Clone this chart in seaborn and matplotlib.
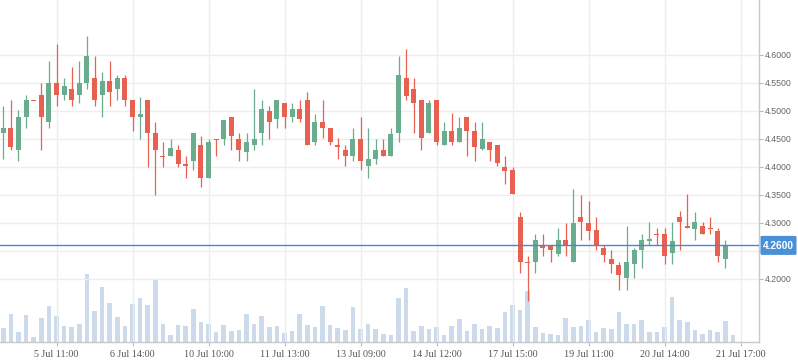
import numpy as np
import pandas as pd
import matplotlib
matplotlib.use("Agg")
import matplotlib.pyplot as plt
import seaborn as sns
from matplotlib.transforms import blended_transform_factory
from matplotlib.patches import FancyBboxPatch

# ---------------- data ----------------
opens = [4.460, 4.470, 4.431, 4.489, 4.520, 4.529, 4.480, 4.550, 4.529, 4.539,
         4.529, 4.550, 4.559, 4.529, 4.554, 4.539, 4.559, 4.520, 4.490, 4.520,
         4.460, 4.420, 4.420, 4.430, 4.405, 4.410, 4.439, 4.381, 4.450, 4.450,
         4.490, 4.450, 4.426, 4.439, 4.460, 4.500, 4.485, 4.514, 4.490, 4.504,
         4.520, 4.445, 4.480, 4.470, 4.439, 4.430, 4.420, 4.450, 4.401, 4.415,
         4.430, 4.420, 4.460, 4.559, 4.539, 4.520, 4.460, 4.520, 4.440, 4.464,
         4.445, 4.489, 4.465, 4.433, 4.445, 4.439, 4.400, 4.395, 4.311, 4.230,
         4.231, 4.259, 4.259, 4.245, 4.270, 4.231, 4.311, 4.300, 4.288, 4.255,
         4.236, 4.225, 4.201, 4.226, 4.251, 4.268, 4.281, 4.280, 4.246, 4.311,
         4.295, 4.290, 4.295, 4.291, 4.286, 4.236, 4.260]
highs = [4.509, 4.520, 4.502, 4.529, 4.520, 4.550, 4.589, 4.620, 4.559, 4.579,
         4.589, 4.634, 4.598, 4.570, 4.589, 4.564, 4.564, 4.520, 4.525, 4.520,
         4.480, 4.445, 4.450, 4.439, 4.420, 4.460, 4.455, 4.450, 4.450, 4.484,
         4.490, 4.460, 4.460, 4.539, 4.520, 4.509, 4.520, 4.514, 4.514, 4.520,
         4.534, 4.495, 4.520, 4.470, 4.451, 4.439, 4.470, 4.489, 4.470, 4.450,
         4.450, 4.470, 4.598, 4.611, 4.559, 4.520, 4.520, 4.520, 4.480, 4.496,
         4.489, 4.489, 4.480, 4.480, 4.445, 4.439, 4.420, 4.400, 4.320, 4.241,
         4.280, 4.280, 4.259, 4.291, 4.300, 4.361, 4.350, 4.339, 4.311, 4.261,
         4.251, 4.230, 4.295, 4.255, 4.280, 4.301, 4.291, 4.291, 4.301, 4.321,
         4.351, 4.320, 4.301, 4.311, 4.291, 4.270, 4.260]
lows = [4.415, 4.431, 4.410, 4.470, 4.519, 4.431, 4.470, 4.509, 4.520, 4.509,
        4.514, 4.539, 4.509, 4.489, 4.509, 4.520, 4.509, 4.464, 4.450, 4.400,
        4.350, 4.400, 4.420, 4.400, 4.380, 4.395, 4.365, 4.381, 4.420, 4.439,
        4.430, 4.410, 4.410, 4.430, 4.439, 4.450, 4.470, 4.470, 4.481, 4.481,
        4.440, 4.440, 4.451, 4.440, 4.415, 4.401, 4.410, 4.395, 4.381, 4.406,
        4.420, 4.420, 4.445, 4.520, 4.460, 4.431, 4.460, 4.440, 4.440, 4.440,
        4.445, 4.420, 4.410, 4.431, 4.410, 4.401, 4.370, 4.351, 4.211, 4.161,
        4.211, 4.241, 4.231, 4.241, 4.241, 4.231, 4.270, 4.270, 4.251, 4.231,
        4.211, 4.181, 4.181, 4.201, 4.220, 4.261, 4.261, 4.226, 4.226, 4.251,
        4.291, 4.270, 4.280, 4.280, 4.230, 4.220, 4.260]
closes = [4.470, 4.435, 4.489, 4.520, 4.519, 4.489, 4.550, 4.529, 4.545, 4.520,
          4.550, 4.598, 4.520, 4.554, 4.534, 4.559, 4.520, 4.489, 4.495, 4.460,
          4.430, 4.418, 4.434, 4.406, 4.401, 4.460, 4.381, 4.445, 4.449, 4.484,
          4.455, 4.430, 4.445, 4.450, 4.504, 4.481, 4.520, 4.490, 4.504, 4.485,
          4.440, 4.480, 4.470, 4.445, 4.435, 4.420, 4.450, 4.410, 4.414, 4.430,
          4.420, 4.459, 4.564, 4.526, 4.515, 4.451, 4.515, 4.445, 4.464, 4.445,
          4.470, 4.465, 4.435, 4.450, 4.431, 4.408, 4.392, 4.351, 4.231, 4.229,
          4.270, 4.256, 4.251, 4.270, 4.261, 4.300, 4.301, 4.286, 4.261, 4.242,
          4.226, 4.207, 4.230, 4.251, 4.270, 4.271, 4.279, 4.241, 4.267, 4.301,
          4.291, 4.301, 4.280, 4.289, 4.241, 4.260, 4.260]
volumes = [14, 28, 10, 27, 5, 24, 36, 26, 16, 15,
           18, 68, 31, 55, 39, 25, 16, 38, 44, 37,
           63, 18, 7, 17, 16, 33, 20, 18, 10, 17,
           11, 12, 28, 18, 26, 15, 16, 9, 11, 28,
           17, 15, 36, 17, 14, 12, 35, 13, 18, 13,
           8, 7, 44, 54, 11, 16, 13, 15, 7, 16,
           23, 11, 18, 13, 16, 14, 30, 37, 32, 51,
           15, 9, 8, 7, 24, 15, 16, 22, 10, 14,
           13, 30, 18, 18, 22, 10, 10, 15, 45, 22,
           20, 12, 8, 12, 10, 21, 7]
tick_positions = [7, 17, 27, 37, 47, 57, 67, 77, 87, 97]
tick_labels = ["5 Jul 11:00", "6 Jul 14:00", "10 Jul 10:00", "11 Jul 13:00",
               "13 Jul 09:00", "14 Jul 12:00", "17 Jul 15:00", "19 Jul 11:00",
               "20 Jul 14:00", "21 Jul 17:00"]
price_ticks = [4.20, 4.25, 4.30, 4.35, 4.40, 4.45, 4.50, 4.55, 4.60]
last_price = 4.26

GREEN = "#6aac8e"
RED = "#e8604f"
VOL_COLOR = "#ccdaec"
LINE_BLUE = "#4a86c8"
BOX_BLUE = "#4a90d9"

df = pd.DataFrame({"idx": np.arange(len(opens)), "open": opens, "high": highs,
                   "low": lows, "close": closes, "volume": volumes})

sns.set_theme(style="white")
plt.rcParams['font.family'] = ['Liberation Sans', 'DejaVu Sans']

W, H = 798, 363
AX_W, AX_H = 759, 342
fig = plt.figure(figsize=(W / 100, H / 100), dpi=100, facecolor="white")
ax = fig.add_axes([0, 1 - AX_H / H, AX_W / W, AX_H / H])
axv = ax.twinx()

# ---- volume bars (seaborn) ----
sns.barplot(data=df, x="idx", y="volume", ax=axv, native_scale=True,
            width=0.61, color=VOL_COLOR, saturation=1, linewidth=0)
axv.set_ylim(0, 342)
axv.set_yticks([])
axv.set_ylabel("")
axv.set_xlabel("")
for s in axv.spines.values():
    s.set_visible(False)

# put candle axes above volume axes
ax.set_zorder(axv.get_zorder() + 1)
ax.patch.set_visible(False)

# ---- candles ----
up = df["close"] >= df["open"]
colors = np.where(up, GREEN, RED)
ax.vlines(df["idx"], df["low"], df["high"], colors=colors, linewidth=0.9, zorder=3)
body_h = (df["close"] - df["open"]).abs().to_numpy()
mid = ((df["close"] + df["open"]) / 2).to_numpy()
minh = 0.0019
heights = np.maximum(body_h, minh)
bottoms = mid - heights / 2
ax.bar(df["idx"], heights, bottom=bottoms, width=0.66, color=colors,
       linewidth=0, zorder=4)

# ---- axes limits ----
ax.set_xlim(-0.434, 99.43)
ax.set_ylim(4.0875, 4.6982)

# ---- last price line and label ----
ax.axhline(last_price, color=LINE_BLUE, lw=1.0, zorder=5)
trans = blended_transform_factory(ax.transAxes, ax.transData)
ppy = AX_H / (4.6982 - 4.0875)          # pixels per price unit
box_w = 36 / AX_W
box_h = 19 / ppy
box = FancyBboxPatch((1.0 + 1.5 / AX_W, last_price - box_h / 2), box_w, box_h,
                     boxstyle="round,pad=0,rounding_size=0.002",
                     mutation_aspect=1, transform=trans, fc=BOX_BLUE, ec="none",
                     clip_on=False, zorder=9)
ax.add_patch(box)
ax.text(1.0 + (1.5 + 18) / AX_W, last_price, f"{last_price:.4f}", transform=trans,
        ha="center", va="center_baseline", color="white", fontsize=7.3,
        fontweight="bold", family=['Liberation Sans', 'DejaVu Sans'],
        clip_on=False, zorder=10)

# ---- axes styling ----
ax.yaxis.tick_right()
ax.set_yticks(price_ticks)
ax.set_yticklabels(["" if abs(t - 4.25) < 1e-9 else f"{t:.4f}" for t in price_ticks])
ax.set_xticks(tick_positions)
ax.set_xticklabels(tick_labels)
for lbl in ax.get_xticklabels():
    lbl.set_family(['Liberation Serif', 'DejaVu Serif'])
ax.tick_params(axis="y", which="both", direction="out", length=3, width=0.8,
               color="#bbbbbb", pad=1, labelsize=6.3, labelcolor="#666666",
               left=False, right=True)
ax.tick_params(axis="x", direction="out", length=3, width=0.8, color="#bbbbbb",
               pad=3, labelsize=7.2, labelcolor="#555555", bottom=True)
ax.set_axisbelow(True)
ax.grid(True, color="#eeeeee", lw=1.0)
for name, s in ax.spines.items():
    if name in ("right", "bottom"):
        s.set_visible(True)
        s.set_color("#c8c8c8")
        s.set_linewidth(1.0)
    else:
        s.set_visible(False)
ax.set_xlabel("")
ax.set_ylabel("")

fig.savefig("out.png", dpi=100, facecolor="white")
